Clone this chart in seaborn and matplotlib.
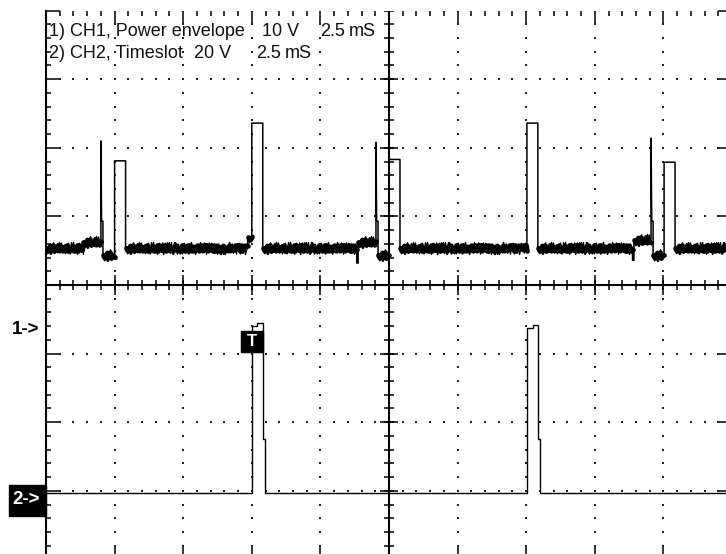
import numpy as np
import pandas as pd
import matplotlib
matplotlib.use("Agg")
import matplotlib.pyplot as plt
from matplotlib.patches import Rectangle
import seaborn as sns

# scope screen is 10 x 8 divisions, all trace values in divisions
# CH1 power envelope (10 V/div, 2.5 mS/div)
ch1_x = [0.00, 0.54, 0.54, 0.80, 0.80, 0.81, 0.83, 0.83, 1.00, 1.00, 1.16, 1.16,
         2.94, 2.94, 3.00, 3.00, 3.16, 3.16,
         4.53, 4.53, 4.55, 4.55, 4.81, 4.81, 4.82, 4.84, 4.84, 5.00, 5.00, 5.16, 5.16,
         7.01, 7.01, 7.17, 7.17,
         8.55, 8.55, 8.57, 8.57, 8.82, 8.82, 8.83, 8.85, 8.85, 9.01, 9.01, 9.17, 9.17, 10.0]
ch1_y = [0.54, 0.54, 0.63, 0.63, 2.10, 0.93, 0.93, 0.44, 0.44, 1.81, 1.81, 0.54,
         0.54, 0.70, 0.70, 2.36, 2.36, 0.54,
         0.54, 0.32, 0.32, 0.63, 0.63, 2.08, 0.93, 0.93, 0.44, 0.44, 1.83, 1.83, 0.54,
         0.54, 2.36, 2.36, 0.54,
         0.54, 0.36, 0.36, 0.66, 0.66, 2.14, 0.93, 0.93, 0.44, 0.44, 1.79, 1.79, 0.54, 0.54]

# CH2 timeslot (20 V/div, 2.5 mS/div)
ch2_x = [0.00, 3.00, 3.00, 3.08, 3.08, 3.16, 3.16, 3.19, 3.19,
         7.01, 7.01, 7.10, 7.10, 7.17, 7.17, 7.20, 7.20, 10.0]
ch2_y = [-3.03, -3.03, -0.60, -0.60, -0.56, -0.56, -2.24, -2.24, -3.03,
         -3.03, -0.62, -0.62, -0.58, -0.58, -2.24, -2.24, -3.03, -3.03]

# header pieces and their left edge in screen pixels
header1 = [("1) CH1, Power envelope", 49), ("10 V", 262), ("2.5", 320), ("mS", 349)]
header2 = [("2) CH2, Timeslot", 49), ("20 V", 194), ("2.5", 256), ("mS", 285)]

DIV = 68.6          # pixels per division
X0, Y0 = 46, 285    # left edge and centre line in pixels


def px(x):
    return (x - X0) / DIV


def py(y):
    return (Y0 - y) / DIV


sns.set_style("white")
plt.rcParams["font.family"] = ["Liberation Sans", "DejaVu Sans"]

fig = plt.figure(figsize=(7.26, 5.54), dpi=100)
ax = fig.add_axes([X0 / 726, (554 - (Y0 + 4 * DIV)) / 554, 10 * DIV / 726, 8 * DIV / 554])
ax.set_xlim(0, 10)
ax.set_ylim(-4, 4)

# frame + ticks like the scope screen
for s in ["top", "bottom"]:
    ax.spines[s].set_visible(False)
for s in ["left", "right"]:
    ax.spines[s].set_linewidth(1.5)
    ax.spines[s].set_color("black")
ax.set_xticks(np.arange(0, 11, 1))
ax.set_xticks(np.arange(0, 10.01, 0.2), minor=True)
ax.set_yticks(np.arange(-4, 5, 1))
ax.set_yticks(np.arange(-4, 4.01, 0.2), minor=True)
ax.tick_params(which="both", direction="in", top=True, bottom=True, left=True, right=True,
               labelbottom=False, labelleft=False, color="black", width=1.1)
ax.tick_params(which="major", length=10)
ax.tick_params(which="minor", length=3.6)

# dotted graticule
minor_x = np.arange(0, 10.01, 0.2)
minor_y = np.arange(-4, 4.01, 0.2)
gx = [v for v in range(1, 10) if v != 5]
gy = [v for v in range(-3, 4) if v != 0]
dots_x = np.concatenate([np.repeat(gx, len(minor_y)), np.tile(minor_x, len(gy))])
dots_y = np.concatenate([np.tile(minor_y, len(gx)), np.repeat(gy, len(minor_x))])
ax.scatter(dots_x, dots_y, s=2.2, marker="s", color="#222222", linewidths=0, zorder=1)

# centre cross with its ticks
ax.axhline(0, color="black", lw=1.5, zorder=2)
ax.axvline(5, color="black", lw=1.5, zorder=2)
ax.vlines(minor_x, -0.066, 0.066, color="black", lw=1.1, zorder=2)
ax.vlines(np.arange(1, 10), -0.15, 0.15, color="black", lw=1.1, zorder=2)
ax.hlines(minor_y, 5 - 0.075, 5 + 0.075, color="black", lw=1.1, zorder=2)
ax.hlines(np.arange(-3, 4), 5 - 0.13, 5 + 0.13, color="black", lw=1.1, zorder=2)

# CH1 trace
ch1 = pd.DataFrame({"t": ch1_x, "v": ch1_y})
sns.lineplot(data=ch1, x="t", y="v", sort=False, estimator=None, color="black",
             lw=1.1, ax=ax, zorder=3)

# noisy floor of CH1 (the flat low-level parts of the trace)
rows = []
for i in range(len(ch1_x) - 1):
    if ch1_y[i] == ch1_y[i + 1] and ch1_y[i] < 1 and ch1_x[i + 1] - ch1_x[i] > 0.03:
        rows.append((i, ch1_x[i], ch1_y[i]))
        rows.append((i, ch1_x[i + 1], ch1_y[i + 1]))
noise = pd.DataFrame(rows, columns=["seg", "t", "v"])
n0 = len(ax.lines)
sns.lineplot(data=noise, x="t", y="v", units="seg", estimator=None, sort=False,
             color="black", lw=3.4, ax=ax, zorder=3)
for ln in ax.lines[n0:]:
    ln.set_sketch_params(scale=3, length=2, randomness=4)
n0 = len(ax.lines)
sns.lineplot(data=noise, x="t", y="v", units="seg", estimator=None, sort=False,
             color="black", lw=1.0, ax=ax, zorder=3)
for ln in ax.lines[n0:]:
    ln.set_sketch_params(scale=6, length=1.5, randomness=4)

# CH2 trace
ch2 = pd.DataFrame({"t": ch2_x, "v": ch2_y})
sns.lineplot(data=ch2, x="t", y="v", sort=False, estimator=None, color="black",
             lw=1.0, ax=ax, zorder=3)
ax.set_xlabel("")
ax.set_ylabel("")
ax.set_xlim(0, 10)
ax.set_ylim(-4, 4)

# header text
for txt, x in header1:
    ax.text(px(x), py(31), txt, fontsize=13, ha="left", va="center", color="#111111", zorder=6)
for txt, x in header2:
    ax.text(px(x), py(53), txt, fontsize=13, ha="left", va="center", color="#111111", zorder=6)

# channel markers
ax.text(px(12), py(329), "1->", fontsize=13.5, fontweight="bold", ha="left", va="center",
        color="black", clip_on=False)
ax.add_patch(Rectangle((px(9), py(516)), px(46) - px(9), py(485) - py(516),
                       color="black", clip_on=False, zorder=5))
ax.text(px(12), py(500), "2->", fontsize=13.5, fontweight="bold", ha="left", va="center",
        color="white", clip_on=False, zorder=6)

# trigger marker
ax.add_patch(Rectangle((px(241), py(352)), px(263) - px(241), py(331) - py(352),
                       color="black", zorder=5))
ax.text(px(252), py(342), "T", fontsize=12, fontweight="bold", ha="center", va="center",
        color="white", zorder=6)

fig.savefig("out.png", dpi=100)
